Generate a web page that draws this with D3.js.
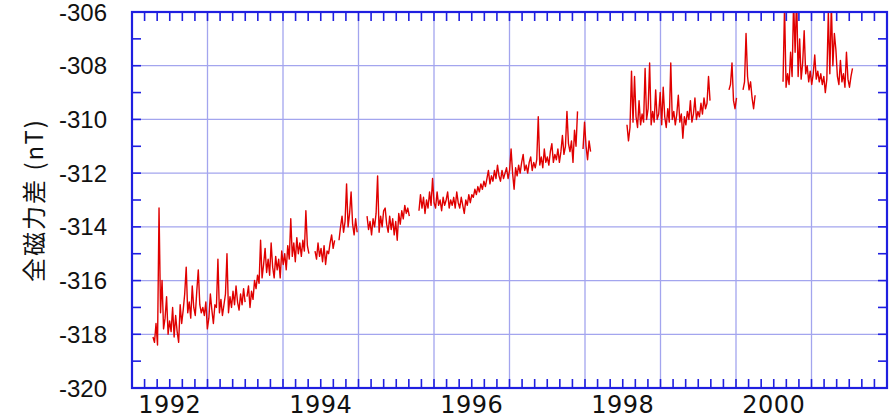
<!DOCTYPE html>
<html>
<head>
<meta charset="utf-8">
<script src="https://cdn.jsdelivr.net/npm/d3@7"></script>
<style>
  body { margin: 0; background: #fff; }
  svg { display: block; }
</style>
</head>
<body>
<svg id="chart" width="890" height="418"></svg>
<script>
// year labels sit in the middle of their year
var yearLabels = [1992, 1994, 1996, 1998, 2000];
var yTicks = [-306, -308, -310, -312, -314, -316, -318, -320];

// sampling interval of the record (years)
var DT = 0.02;

// start time of each continuous piece of record
var segStarts = [1992.278, 1993.523, 1994.424, 1994.742, 1995.113, 1995.801,
                 1997.974, 1998.556, 1999.907, 2000.093, 2000.623];

var seg1 = [-318.1,-318.3,-317.6,-318.4,-313.3,-317.2,-316.0,-317.8,-317.4,-316.6,
  -318.0,-317.5,-317.9,-317.0,-318.1,-317.3,-317.9,-318.3,-316.9,-317.6,
  -317.1,-316.5,-315.5,-317.2,-316.8,-317.4,-316.2,-317.0,-317.3,-316.4,
  -315.6,-316.9,-317.2,-317.0,-317.3,-316.8,-317.8,-317.4,-316.5,-317.1,
  -317.6,-316.9,-317.0,-315.2,-317.2,-316.7,-317.3,-316.9,-316.5,-315.0,
  -317.2,-316.6,-317.0,-316.4,-316.9,-316.2,-316.8,-317.1,-316.5,-316.9,
  -316.3,-316.8];
var seg2 = [-316.6,-316.2,-317.0,-316.4,-316.7,-316.0,-316.3,-315.8,-316.1,-314.5,
  -315.9,-315.4,-314.8,-315.7,-315.2,-315.8,-314.6,-315.5,-315.9,-315.1,
  -315.6,-315.2,-315.9,-314.9,-315.4,-315.0,-315.6,-314.7,-315.2,-313.7,
  -315.1,-314.6,-315.3,-314.4,-315.0,-314.6,-315.1,-314.5,-314.9,-313.4,
  -314.7,-315.0];
var seg3 = [-314.9,-315.2,-314.6,-315.1,-314.8,-315.3,-314.7,-315.4,-314.9,-315.0,
  -314.6,-314.3,-314.8,-314.5];
var seg4 = [-314.5,-314.0,-313.6,-314.2,-313.8,-312.4,-314.0,-313.5,-312.7,-313.9,
  -314.3,-313.7,-314.2];
var seg5 = [-313.6,-314.1,-313.8,-314.3,-313.7,-314.0,-313.5,-312.1,-314.2,-313.6,
  -314.0,-313.4,-313.3,-313.9,-314.2,-313.6,-314.1,-313.7,-314.3,-313.8,
  -314.5,-313.5,-313.9,-313.4,-313.7,-313.2,-313.5,-313.3,-313.6];
var seg6 = [-313.4,-312.8,-313.3,-312.9,-313.5,-313.0,-313.3,-312.7,-313.2,-312.2,
  -313.1,-313.3,-312.7,-313.2,-313.0,-313.4,-312.9,-313.2,-313.0,-312.7,
  -313.3,-313.0,-313.2,-312.9,-313.3,-312.7,-313.1,-313.3,-312.9,-313.2,
  -313.5,-313.0,-313.2,-312.8,-313.1,-312.8,-312.9,-312.6,-312.8,-312.5,
  -312.7,-312.4,-312.6,-312.3,-312.5,-312.2,-311.9,-312.4,-312.1,-312.3,
  -311.9,-312.2,-311.7,-312.1,-312.3,-311.9,-312.2,-312.0,-311.8,-312.2,
  -311.9,-311.1,-312.0,-312.6,-311.8,-312.1,-311.7,-312.0,-311.6,-311.3,
  -311.9,-311.7,-312.0,-311.6,-311.4,-311.9,-311.6,-311.8,-311.5,-309.9,
  -311.7,-311.4,-311.8,-311.1,-311.6,-311.4,-311.7,-311.2,-310.9,-311.6,
  -311.3,-311.5,-311.1,-311.6,-311.2,-310.6,-311.3,-311.0,-309.7,-310.9,
  -311.2,-310.8,-311.6,-310.4,-311.0,-309.7];
var seg7 = [-311.1,-310.1,-311.0,-311.5,-310.8,-311.2];
var seg8 = [-310.2,-310.8,-310.3,-308.2,-310.1,-308.4,-309.9,-310.3,-309.3,-310.2,
  -309.8,-310.1,-308.1,-310.0,-309.6,-307.9,-310.2,-309.7,-310.1,-308.9,
  -310.0,-309.8,-309.0,-310.2,-308.8,-309.9,-310.3,-309.6,-310.1,-307.9,
  -310.0,-309.7,-310.2,-309.8,-309.1,-310.1,-309.8,-310.7,-309.9,-310.2,
  -309.7,-310.0,-309.3,-310.1,-309.8,-309.2,-310.0,-309.7,-309.9,-309.4,
  -309.8,-309.2,-309.6,-309.4,-308.4,-309.3];
var seg9 = [-308.9,-308.7,-307.9,-309.3,-309.6,-309.2];
var seg10 = [-308.9,-308.6,-306.8,-308.4,-308.9,-308.6,-309.2,-309.6,-309.1];
var seg11 = [-308.6,-305.8,-308.8,-308.3,-308.7,-307.5,-308.4,-305.6,-307.5,-305.4,
  -308.4,-307.0,-308.5,-307.9,-306.7,-308.3,-308.0,-308.6,-308.2,-308.7,
  -308.3,-307.6,-308.5,-308.2,-308.6,-308.3,-308.7,-308.4,-309.0,-308.5,
  -306.0,-308.3,-305.7,-308.0,-306.8,-307.4,-308.4,-308.7,-307.8,-308.6,
  -308.3,-308.8,-307.5,-308.5,-308.8,-308.4,-308.1];

var segValues = [seg1, seg2, seg3, seg4, seg5, seg6, seg7, seg8, seg9, seg10, seg11];

var svg = d3.select("#chart");
var pL = 132, pR = 887, pT = 12, pB = 388;

var x = d3.scaleLinear().domain([1992, 2002]).range([pL, pR]);
var y = d3.scaleLinear().domain([-320, -306]).range([pB, pT]);

var gridColor = "#a3a5ee";
var axisColor = "#1f1fe0";

svg.append("clipPath").attr("id", "plotClip")
  .append("rect")
  .attr("x", pL).attr("y", pT)
  .attr("width", pR - pL).attr("height", pB - pT);

// grid
var g = svg.append("g");
g.selectAll(".vgrid").data(d3.range(1993, 2002)).enter().append("line")
  .attr("x1", function(d) { return x(d); }).attr("x2", function(d) { return x(d); })
  .attr("y1", pT).attr("y2", pB)
  .attr("stroke", gridColor).attr("stroke-width", 1.3);
g.selectAll(".hgrid").data(yTicks.slice(1, -1)).enter().append("line")
  .attr("x1", pL).attr("x2", pR)
  .attr("y1", function(d) { return y(d); }).attr("y2", function(d) { return y(d); })
  .attr("stroke", gridColor).attr("stroke-width", 1.3);

// data
var line = d3.line()
  .x(function(d) { return x(d[0]); })
  .y(function(d) { return y(d[1]); });

var plot = svg.append("g").attr("clip-path", "url(#plotClip)");
segValues.forEach(function(vals, k) {
  var pts = vals.map(function(v, i) { return [segStarts[k] + i * DT, v]; });
  plot.append("path")
    .datum(pts)
    .attr("d", line)
    .attr("fill", "none")
    .attr("stroke", "#e00000")
    .attr("stroke-width", 1.4)
    .attr("stroke-linejoin", "round");
});

// axes: ticks pointing inward on all four sides
var tickLen = 9;
var xMinor = d3.range(0, 61).map(function(i) { return 1992 + i / 6; });
var yMinor = d3.range(-320, -305);

var axG = svg.append("g").attr("stroke", axisColor).attr("stroke-width", 1.6);
xMinor.forEach(function(t) {
  axG.append("line").attr("x1", x(t)).attr("x2", x(t)).attr("y1", pT).attr("y2", pT + tickLen);
  axG.append("line").attr("x1", x(t)).attr("x2", x(t)).attr("y1", pB).attr("y2", pB - tickLen);
});
yMinor.forEach(function(t) {
  axG.append("line").attr("x1", pL).attr("x2", pL + tickLen).attr("y1", y(t)).attr("y2", y(t));
  axG.append("line").attr("x1", pR).attr("x2", pR - tickLen).attr("y1", y(t)).attr("y2", y(t));
});
svg.append("rect")
  .attr("x", pL).attr("y", pT)
  .attr("width", pR - pL).attr("height", pB - pT)
  .attr("fill", "none").attr("stroke", axisColor).attr("stroke-width", 2.2);

// tick labels
svg.selectAll(".ylab").data(yTicks).enter().append("text")
  .attr("x", pL - 25)
  .attr("y", function(d) { return y(d); })
  .attr("dy", "0.36em")
  .attr("text-anchor", "end")
  .attr("font-family", "Liberation Sans, Arial, sans-serif")
  .attr("font-size", 24)
  .attr("fill", "#111")
  .text(function(d) { return d; });

svg.selectAll(".xlab").data(yearLabels).enter().append("text")
  .attr("x", function(d) { return x(d + 0.5); })
  .attr("y", 412.5)
  .attr("text-anchor", "middle")
  .attr("font-family", "DejaVu Sans, sans-serif")
  .attr("font-size", 24)
  .attr("letter-spacing", 0.5)
  .attr("fill", "#111")
  .text(function(d) { return d; });

svg.append("text")
  .attr("transform", "translate(43,200) rotate(-90)")
  .attr("text-anchor", "middle")
  .attr("font-family", "Noto Sans CJK JP, sans-serif")
  .attr("font-size", 24)
  .attr("letter-spacing", 2)
  .attr("fill", "#111")
  .text("全磁力差 (nT)");
</script>
</body>
</html>
